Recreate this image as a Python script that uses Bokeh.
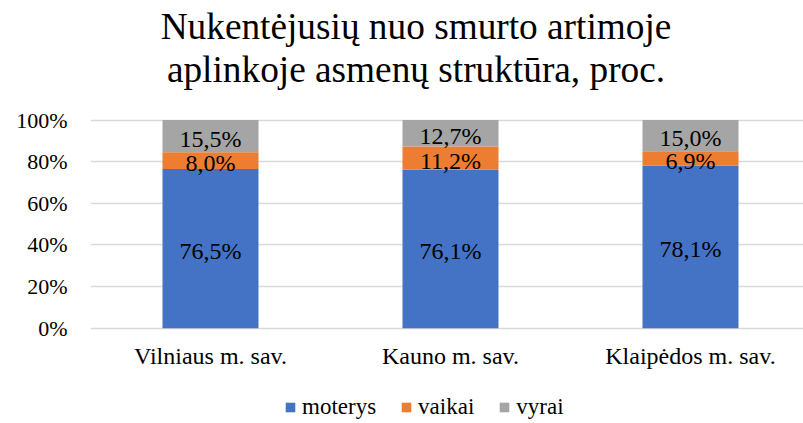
from bokeh.plotting import figure
from bokeh.models import (ColumnDataSource, Range1d, FixedTicker, NumeralTickFormatter,
                          LabelSet, Label, Legend, LegendItem)
from bokeh.embed import file_html
from bokeh.resources import INLINE
from bokeh.core.properties import value

categories = ["Vilniaus m. sav.", "Kauno m. sav.", "Klaipėdos m. sav."]
series = ["moterys", "vaikai", "vyrai"]
moterys = [76.5, 76.1, 78.1]
vaikai = [8.0, 11.2, 6.9]
vyrai = [15.5, 12.7, 15.0]
colors = ["#4472C4", "#ED7D31", "#A5A5A5"]
y_ticks = [0, 0.2, 0.4, 0.6, 0.8, 1.0]
title_lines = ["Nukentėjusių nuo smurto artimoje", "aplinkoje asmenų struktūra, proc."]

FONT = "Liberation Serif"

# ---- layout (pixels) ----
W, H = 803, 423
BL = 90                 # left border holding the value axis
cat_px = 240.0          # width of one category slot
y100_px, y0_px = 119.5, 327.7   # screen rows of 100% and 0%
px_per_unit = y0_px - y100_px

def ydata(row_px):
    return (y0_px - row_px) / px_per_unit

def xdata(col_px):
    return -0.5 + (col_px - BL) / cat_px

xs = list(range(len(categories)))
data = {"x": xs,
        "moterys": [v / 100 for v in moterys],
        "vaikai": [v / 100 for v in vaikai],
        "vyrai": [v / 100 for v in vyrai]}
src = ColumnDataSource(data)

p = figure(width=W, height=H, output_backend="svg", toolbar_location=None,
           x_axis_location=None,
           x_range=Range1d(xdata(BL), xdata(W)), y_range=Range1d(ydata(H), ydata(0)),
           min_border_left=BL, min_border_right=0, min_border_top=0, min_border_bottom=0)
p.outline_line_color = None
p.background_fill_color = "white"
p.border_fill_color = "white"

renderers = p.vbar_stack(series, x="x", width=0.4, source=src, color=colors, line_color=None)

# value axis
p.yaxis.ticker = FixedTicker(ticks=y_ticks)
p.yaxis.formatter = NumeralTickFormatter(format="0%")
p.yaxis.axis_line_color = None
p.yaxis.major_tick_line_color = None
p.yaxis.minor_tick_line_color = None
p.yaxis.major_tick_out = 0
p.yaxis.major_label_standoff = 23
p.yaxis.major_label_text_font = FONT
p.yaxis.major_label_text_font_size = "22px"
p.yaxis.major_label_text_color = "#000000"

p.xgrid.grid_line_color = None
p.ygrid.grid_line_color = "#D9D9D9"
p.ygrid.grid_line_width = 1.5

# category labels
csrc = ColumnDataSource(dict(x=xs, y=[ydata(363)] * len(xs), t=categories))
p.add_layout(LabelSet(x="x", y="y", text="t", source=csrc, text_align="center",
                      text_baseline="alphabetic", text_font=value(FONT),
                      text_font_size="24px", text_color="#000000"))

# data labels
lx, ly, lt = [], [], []
for i in xs:
    base = 0.0
    for s in series:
        v = data[s][i]
        lx.append(i)
        ly.append(base + v / 2)
        lt.append(("%.1f%%" % (v * 100)).replace(".", ","))
        base += v
lsrc = ColumnDataSource(dict(x=lx, y=ly, t=lt))
p.add_layout(LabelSet(x="x", y="y", text="t", source=lsrc, text_align="center",
                      text_baseline="middle", y_offset=-2.5, text_font=value(FONT),
                      text_font_size="24px", text_color="#000000"))

# title
for line, base_px in zip(title_lines, [26, 69]):
    p.add_layout(Label(x=xdata(415.5), y=ydata(base_px), text=line,
                       text_align="center", text_baseline="alphabetic",
                       text_font=FONT, text_font_size="37.3px", text_color="#000000"))

# legend
legend = Legend(items=[LegendItem(label=s, renderers=[r]) for s, r in zip(series, renderers)],
                orientation="horizontal", location=(284 - BL, 3),
                glyph_width=12, glyph_height=12, label_standoff=6, spacing=24,
                padding=0, margin=0, border_line_color=None, background_fill_alpha=0,
                label_text_font=FONT, label_text_font_size="23px", label_text_color="#000000")
p.add_layout(legend, "center")

open("out.html", "w").write(file_html(p, INLINE))
